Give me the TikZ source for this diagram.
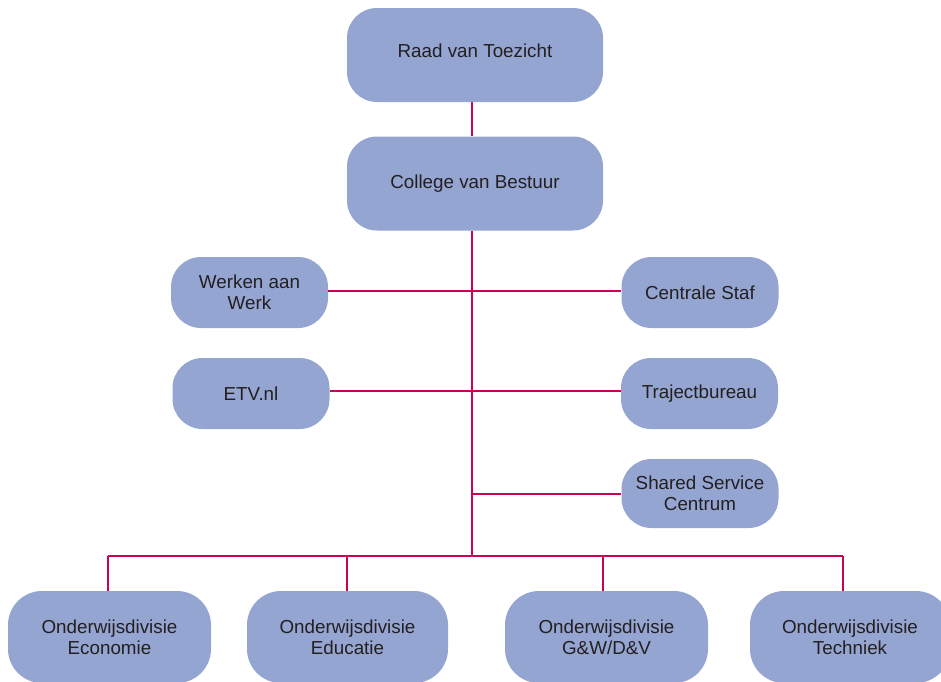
\documentclass[tikz,border=0pt]{standalone}
\usepackage{fontspec}
\setmainfont{Liberation Sans}
\definecolor{boxfill}{RGB}{149,165,210}
\definecolor{linec}{RGB}{204,0,85}
\definecolor{txt}{RGB}{35,31,32}
\begin{document}
\begin{tikzpicture}[x=1pt,y=-1pt,
  box/.style={draw=none,fill=boxfill,rounded corners=30pt,text=txt,
    font=\fontsize{18.8}{21}\selectfont,align=center,inner sep=0pt,anchor=center},
  big/.style={box,minimum width=256pt,minimum height=94pt},
  mid/.style={box,minimum width=157pt,minimum height=71pt},
  low/.style={box,minimum width=203pt,minimum height=92pt,rounded corners=34pt},
  conn/.style={draw=linec,line width=1.4pt}]
\useasboundingbox (0,0) rectangle (941,681);
\clip (0,0) rectangle (941,681);
% nodes
\node[big,text depth=8pt] (rvt) at (475,55) {Raad van Toezicht};
\node[big] (cvb) at (475,183.5) {College van Bestuur};
\node[mid] (waw) at (249.5,292.5) {Werken aan\\Werk};
\node[mid] (cs)  at (700,292.5) {Centrale Staf};
\node[mid] (etv) at (251,393.5) {ETV.nl};
\node[mid] (tb)  at (699.5,393.5) {Trajectbureau};
\node[mid,minimum height=69pt] (ssc) at (700,493.5) {Shared Service\\Centrum};
\node[low] (eco)  at (109.5,637) {Onderwijsdivisie\\Economie};
\node[low,minimum width=201pt] (edu)  at (347.5,637) {Onderwijsdivisie\\Educatie};
\node[low] (gwdv) at (606.5,637) {Onderwijsdivisie\\G\&W/D\&V};
\node[low,minimum width=200pt] (tech) at (850,637) {Onderwijsdivisie\\Techniek};
% helper coordinates
\coordinate (spine) at (472,0);
\coordinate (bus) at (472,556);
\coordinate (d1) at (108,556);
\coordinate (d2) at (347,556);
\coordinate (d3) at (603,556);
\coordinate (d4) at (843,556);
% connectors
\draw[conn] (rvt.south -| spine) -- (cvb.north -| spine);
\draw[conn] (cvb.south -| spine) -- (bus);
\draw[conn] (waw.east |- 0,291) -- (cs.west |- 0,291);
\draw[conn] (etv.east |- 0,391) -- (tb.west |- 0,391);
\draw[conn] (ssc.west |- 0,494) -- (spine |- 0,494);
\draw[conn] (d1) -- (d4);
\draw[conn] (d1) -- (eco.north -| d1);
\draw[conn] (d2) -- (edu.north -| d2);
\draw[conn] (d3) -- (gwdv.north -| d3);
\draw[conn] (d4) -- (tech.north -| d4);
\end{tikzpicture}
\end{document}
